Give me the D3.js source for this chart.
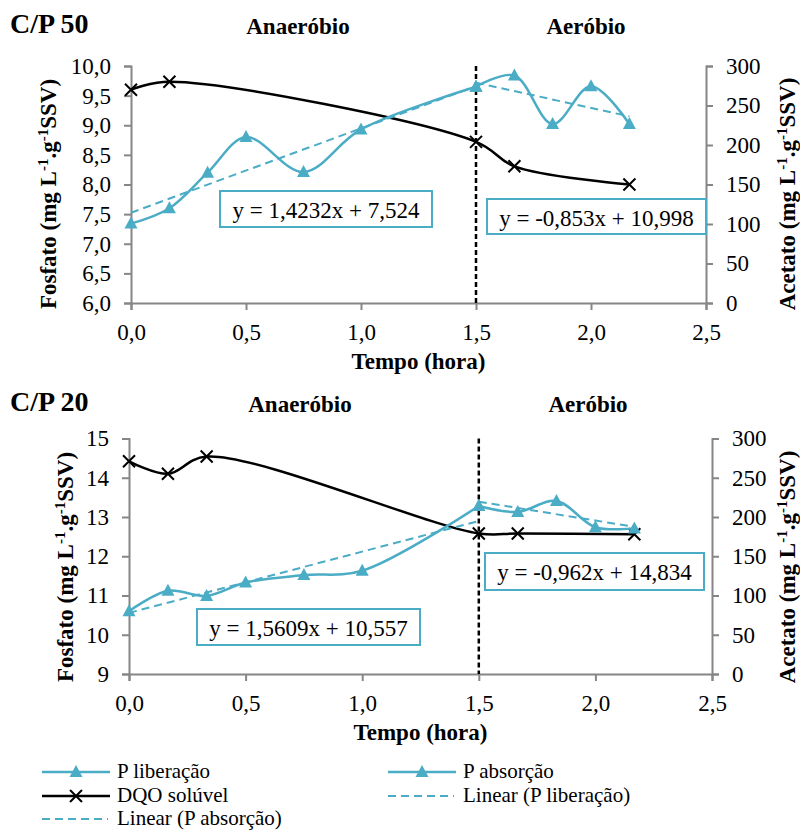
<!DOCTYPE html>
<html>
<head>
<meta charset="utf-8">
<script src="https://cdn.jsdelivr.net/npm/d3@7"></script>
<style>
  body { margin: 0; background: #fff; }
  svg, svg text { font-family: "Liberation Serif", "Times New Roman", Tinos, "DejaVu Serif", serif; }
</style>
</head>
<body>
<div id="chart"></div>
<script>
// tempos (hora)
var tempoLib = [0, 0.167, 0.333, 0.5, 0.75, 1.0, 1.5];
var tempoAbs = [1.5, 1.667, 1.833, 2.0, 2.167];
var tempoDqo50 = [0, 0.167, 1.5, 1.667, 2.167];
var tempoDqo20 = [0, 0.167, 0.333, 1.5, 1.667, 2.167];

// C/P 50
var pLib50 = [7.34, 7.60, 8.20, 8.80, 8.21, 8.93, 9.65];
var pAbs50 = [9.65, 9.84, 9.02, 9.66, 9.02];
var dqo50 = [270, 280, 204, 173, 150];
var trendLib50 = [1.4232, 7.524];
var trendAbs50 = [-0.853, 10.998];
var eq50 = ["y = 1,4232x + 7,524", "y = -0,853x + 10,998"];

// C/P 20
var pLib20 = [10.60, 11.12, 10.99, 11.33, 11.52, 11.63, 13.28];
var pAbs20 = [13.28, 13.13, 13.41, 12.74, 12.71];
var dqo20 = [271, 255, 277, 179, 179, 178];
var trendLib20 = [1.5609, 10.557];
var trendAbs20 = [-0.962, 14.834];
var eq20 = ["y = 1,5609x + 10,557", "y = -0,962x + 14,834"];

var xTicks = [0, 0.5, 1.0, 1.5, 2.0, 2.5];
var yTicks50 = [6.0, 6.5, 7.0, 7.5, 8.0, 8.5, 9.0, 9.5, 10.0];
var yTicks20 = [9, 10, 11, 12, 13, 14, 15];
var rightTicks = [0, 50, 100, 150, 200, 250, 300];
var legendLabels = ["P liberação", "P absorção", "DQO solúvel", "Linear (P liberação)", "Linear (P absorção)"];

var teal = "#4bacc6";
var gray = "#868686";
var serif = "'Liberation Serif', 'Times New Roman', Tinos, 'DejaVu Serif', serif";
var w = 800, h = 831;

var svg = d3.select("#chart").append("svg").attr("width", w).attr("height", h)
  .attr("font-family", serif);

var br = d3.formatLocale({decimal: ",", thousands: ".", grouping: [3], currency: ["", ""]});
var f1 = br.format(".1f");
var f0 = br.format("d");

function triangle(g, x, y) {
  g.append("path")
    .attr("d", "M0,-7L6.5,5L-6.5,5Z")
    .attr("transform", "translate(" + x + "," + y + ")")
    .attr("fill", teal);
}

function cross(g, x, y) {
  g.append("path")
    .attr("d", "M-6,-6L6,6M-6,6L6,-6")
    .attr("transform", "translate(" + x + "," + y + ")")
    .attr("stroke", "#000")
    .attr("stroke-width", 2)
    .attr("fill", "none");
}

function ytitle(g, x, y, name) {
  var t = g.append("text")
    .attr("transform", "translate(" + x + "," + y + ") rotate(-90)")
    .attr("text-anchor", "middle")
    .attr("font-size", 23)
    .attr("font-weight", "bold");
  t.append("tspan").text(name + " (mg L");
  t.append("tspan").attr("baseline-shift", "super").attr("font-size", 15).text("-1");
  t.append("tspan").text(".g");
  t.append("tspan").attr("baseline-shift", "super").attr("font-size", 15).text("-1");
  t.append("tspan").text("SSV)");
}

function drawChart(c) {
  var g = svg.append("g");
  var x = d3.scaleLinear().domain([0, 2.5]).range([c.left, c.right]);
  var y = d3.scaleLinear().domain(c.yDomain).range([c.bottom, c.top]);
  var y2 = d3.scaleLinear().domain([0, 300]).range([c.bottom, c.top]);

  // eixos
  var ax = g.append("g").attr("transform", "translate(0," + c.bottom + ")")
    .call(d3.axisBottom(x).tickValues(xTicks).tickFormat(f1).tickSize(7).tickPadding(14));
  var ay = g.append("g").attr("transform", "translate(" + c.left + ",0)")
    .call(d3.axisLeft(y).tickValues(c.yTicks).tickFormat(c.yFmt).tickSize(7).tickPadding(13));
  var ay2 = g.append("g").attr("transform", "translate(" + c.right + ",0)")
    .call(d3.axisRight(y2).tickValues(rightTicks).tickFormat(f0).tickSize(7).tickPadding(13));
  [ax, ay, ay2].forEach(function(a) {
    a.attr("font-family", serif).attr("font-size", 23);
    a.select(".domain").attr("stroke", gray).attr("stroke-width", 2);
    a.selectAll(".tick line").attr("stroke", gray).attr("stroke-width", 2);
    a.selectAll(".tick text").attr("fill", "#000");
  });
  ax.selectAll(".tick text").attr("dy", "0.71em");

  // linha de fase
  g.append("line")
    .attr("x1", x(1.5)).attr("x2", x(1.5))
    .attr("y1", c.top).attr("y2", c.bottom)
    .attr("stroke", "#000").attr("stroke-width", 2.5)
    .attr("stroke-dasharray", "5,3");

  var curve = d3.curveCatmullRom.alpha(0.5);
  var lineL = d3.line().x(function(d) { return x(d[0]); }).y(function(d) { return y(d[1]); }).curve(curve);
  var lineR = d3.line().x(function(d) { return x(d[0]); }).y(function(d) { return y2(d[1]); }).curve(curve);

  // DQO
  var dq = d3.zip(c.tDqo, c.dqo);
  g.append("path").attr("d", lineR(dq)).attr("fill", "none").attr("stroke", "#000").attr("stroke-width", 2.5);
  dq.forEach(function(d) { cross(g, x(d[0]), y2(d[1])); });

  // tendencias
  [[c.trendLib, 0, 1.5], [c.trendAbs, 1.5, 2.167]].forEach(function(t) {
    g.append("line")
      .attr("x1", x(t[1])).attr("y1", y(t[0][0] * t[1] + t[0][1]))
      .attr("x2", x(t[2])).attr("y2", y(t[0][0] * t[2] + t[0][1]))
      .attr("stroke", teal).attr("stroke-width", 2).attr("stroke-dasharray", "8,5");
  });

  // P liberacao / absorcao
  [d3.zip(tempoLib, c.pLib), d3.zip(tempoAbs, c.pAbs)].forEach(function(s) {
    g.append("path").attr("d", lineL(s)).attr("fill", "none").attr("stroke", teal).attr("stroke-width", 2.5);
    s.forEach(function(d) { triangle(g, x(d[0]), y(d[1])); });
  });

  // equacoes
  c.boxes.forEach(function(b, i) {
    g.append("rect").attr("x", b[0]).attr("y", b[1]).attr("width", b[2]).attr("height", b[3])
      .attr("fill", "#fff").attr("stroke", teal).attr("stroke-width", 2);
    g.append("text").attr("x", b[0] + b[2] / 2).attr("y", b[1] + 27)
      .attr("text-anchor", "middle").attr("font-size", 23).text(c.eq[i]);
  });

  // titulos
  g.append("text").attr("x", 10).attr("y", c.titleY).attr("font-size", 28).attr("font-weight", "bold").text(c.title);
  g.append("text").attr("x", c.anaX).attr("y", c.titleY + 1).attr("text-anchor", "middle")
    .attr("font-size", 23).attr("font-weight", "bold").text("Anaeróbio");
  g.append("text").attr("x", c.aeroX).attr("y", c.titleY + 1).attr("text-anchor", "middle")
    .attr("font-size", 23).attr("font-weight", "bold").text("Aeróbio");
  g.append("text").attr("x", (c.left + c.right) / 2).attr("y", c.bottom + 66).attr("text-anchor", "middle")
    .attr("font-size", 23).attr("font-weight", "bold").text("Tempo (hora)");
  ytitle(g, c.lTitleX, c.titleMidY, "Fosfato");
  ytitle(g, c.rTitleX, c.titleMidY, "Acetato");
}

drawChart({
  title: "C/P 50", titleY: 33, anaX: 298, aeroX: 586,
  left: 131, right: 706, top: 66, bottom: 303,
  yDomain: [6, 10], yTicks: yTicks50, yFmt: f1,
  pLib: pLib50, pAbs: pAbs50, dqo: dqo50, tDqo: tempoDqo50,
  trendLib: trendLib50, trendAbs: trendAbs50, eq: eq50,
  boxes: [[220, 191, 212, 36], [487, 199, 219, 35]],
  lTitleX: 56, rTitleX: 795, titleMidY: 194
});

drawChart({
  title: "C/P 20", titleY: 411, anaX: 300, aeroX: 588,
  left: 129, right: 712, top: 438.5, bottom: 674,
  yDomain: [9, 15], yTicks: yTicks20, yFmt: f0,
  pLib: pLib20, pAbs: pAbs20, dqo: dqo20, tDqo: tempoDqo20,
  trendLib: trendLib20, trendAbs: trendAbs20, eq: eq20,
  boxes: [[197, 609, 223, 36], [485, 553, 219, 37]],
  lTitleX: 73, rTitleX: 795, titleMidY: 567
});

// legenda
var leg = svg.append("g");
var legItems = [
  {lab: legendLabels[0], x: 42, y: 772, type: "tri"},
  {lab: legendLabels[1], x: 388, y: 772, type: "tri"},
  {lab: legendLabels[2], x: 42, y: 796, type: "x"},
  {lab: legendLabels[3], x: 388, y: 796, type: "dash"},
  {lab: legendLabels[4], x: 42, y: 819, type: "dash"}
];
legItems.forEach(function(d) {
  if (d.type === "dash") {
    leg.append("line").attr("x1", d.x).attr("x2", d.x + 66).attr("y1", d.y).attr("y2", d.y)
      .attr("stroke", teal).attr("stroke-width", 2).attr("stroke-dasharray", "8,5");
  } else {
    leg.append("line").attr("x1", d.x).attr("x2", d.x + 68).attr("y1", d.y).attr("y2", d.y)
      .attr("stroke", d.type === "tri" ? teal : "#000").attr("stroke-width", 2.5);
    if (d.type === "tri") triangle(leg, d.x + 34, d.y);
    else cross(leg, d.x + 34, d.y);
  }
  leg.append("text")
    .attr("x", d.x + 75).attr("y", d.y + 6)
    .attr("font-size", 21).text(d.lab);
});
</script>
</body>
</html>
